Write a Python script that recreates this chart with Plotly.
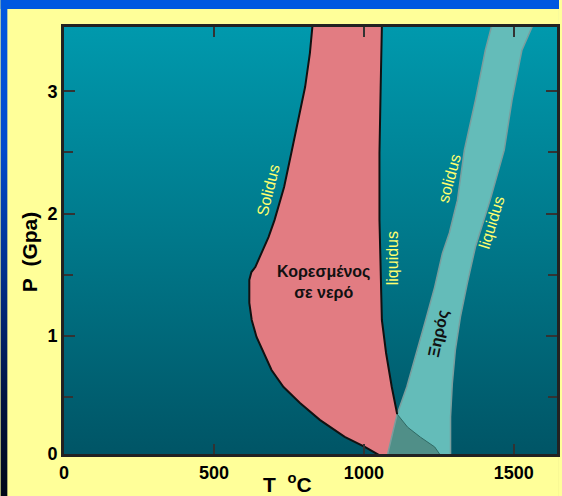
import base64
import plotly.graph_objects as go

# ---------------- data (T in °C, P in GPa) ----------------
WET_SOLIDUS_T = [831, 828, 820, 804, 782, 758, 734, 702, 682, 659, 638, 625, 618, 618,
                 626, 642, 666, 692, 732, 787, 853, 936, 1003, 1069]
WET_SOLIDUS_P = [3.60, 3.526, 3.313, 3.035, 2.765, 2.495, 2.217, 1.947, 1.808, 1.677, 1.563,
                 1.522, 1.457, 1.269, 1.130, 0.991, 0.860, 0.721, 0.582, 0.452, 0.313,
                 0.174, 0.092, 0.0]

WET_LIQUIDUS_T = [1062, 1060, 1056, 1052, 1052, 1056, 1060, 1074, 1093, 1111]
WET_LIQUIDUS_P = [3.60, 3.526, 3.035, 2.495, 1.947, 1.399, 1.130, 0.860, 0.582, 0.36]

WET_LIQUIDUS_EXT_T = [1111, 1146, 1189, 1236, 1262]
WET_LIQUIDUS_EXT_P = [0.36, 0.253, 0.171, 0.092, 0.0]

DRY_SOLIDUS_T = [1433, 1425, 1405, 1372, 1335, 1312, 1285, 1262, 1236, 1206, 1176, 1143, 1111, 1076]
DRY_SOLIDUS_P = [3.60, 3.526, 3.337, 2.928, 2.519, 2.110, 1.841, 1.677, 1.399, 1.130, 0.860,
                 0.582, 0.36, 0.0]

DRY_LIQUIDUS_T = [1574, 1560, 1527, 1494, 1468, 1421, 1372, 1345, 1322, 1305, 1295, 1289, 1289]
DRY_LIQUIDUS_P = [3.60, 3.526, 3.337, 2.928, 2.519, 2.110, 1.727, 1.432, 1.155, 0.884, 0.614,
                  0.336, 0.0]

X_TICKS = [0, 500, 1000, 1500]
X_TICK_LABELS = ["0", "500", "1000", "1500"]
Y_TICKS = [0, 1, 2, 3]
Y_TICK_LABELS = ["0", "1", "2", "3"]
Y_MINOR_TICKS = [0.5, 1.5, 2.5]

X_RANGE = [0, 1644]
Y_RANGE = [0.034, 3.526]

# ---------------- styles ----------------
RED = "#E27C82"
DRY = "#64BCB9"
OVERLAP = "#508F88"
YELLOW_TXT = "#FFFF6E"
FONT = "Liberation Sans, Arial, sans-serif"

W, H = 562, 496
ML, MR, MT, MB = 64, 2, 27, 42
PW, PH = W - ML - MR, H - MT - MB

svg = f"""<svg xmlns='http://www.w3.org/2000/svg' width='{W}' height='{H}' viewBox='0 0 {W} {H}' preserveAspectRatio='none'>
<defs>
<linearGradient id='b' x1='0' y1='0' x2='0' y2='1'>
<stop offset='0' stop-color='#0058E0'/><stop offset='0.3' stop-color='#004BCC'/>
<stop offset='0.55' stop-color='#00308C'/><stop offset='0.8' stop-color='#001342'/>
<stop offset='1' stop-color='#000818'/></linearGradient>
<linearGradient id='t' x1='0' y1='0' x2='0' y2='1'>
<stop offset='0' stop-color='#0099AD'/><stop offset='0.5' stop-color='#00788A'/>
<stop offset='1' stop-color='#005566'/></linearGradient>
</defs>
<rect width='{W}' height='{H}' fill='url(#b)'/>
<rect x='0' y='0' width='{W}' height='9' fill='#0058E0'/>
<rect x='7' y='9' width='{W-7}' height='{H-9}' fill='#FFFF99'/>
<rect x='{ML}' y='{MT}' width='{PW}' height='{PH}' fill='url(#t)'/>
</svg>"""
bg_uri = "data:image/svg+xml;base64," + base64.b64encode(svg.encode()).decode()

fig = go.Figure()

# wet (water-saturated) melting region
red_T = WET_SOLIDUS_T + WET_LIQUIDUS_EXT_T[::-1] + WET_LIQUIDUS_T[::-1]
red_P = WET_SOLIDUS_P + WET_LIQUIDUS_EXT_P[::-1] + WET_LIQUIDUS_P[::-1]
fig.add_trace(go.Scatter(x=red_T, y=red_P, fill="toself", fillcolor=RED, mode="none",
                         hoverinfo="skip", showlegend=False))

# dry melting band
dry_T = DRY_SOLIDUS_T + DRY_LIQUIDUS_T[::-1]
dry_P = DRY_SOLIDUS_P + DRY_LIQUIDUS_P[::-1]
fig.add_trace(go.Scatter(x=dry_T, y=dry_P, fill="toself", fillcolor=DRY, mode="none",
                         hoverinfo="skip", showlegend=False))

# overlap of the two
k = DRY_SOLIDUS_P.index(WET_LIQUIDUS_EXT_P[0])
ov_T = DRY_SOLIDUS_T[k:] + WET_LIQUIDUS_EXT_T[::-1]
ov_P = DRY_SOLIDUS_P[k:] + WET_LIQUIDUS_EXT_P[::-1]
fig.add_trace(go.Scatter(x=ov_T, y=ov_P, fill="toself", fillcolor=OVERLAP, mode="none",
                         hoverinfo="skip", showlegend=False))

# boundary lines
for xs, ys, col, w in [
    (DRY_SOLIDUS_T, DRY_SOLIDUS_P, "#7A9E9E", 1.5),
    (DRY_LIQUIDUS_T, DRY_LIQUIDUS_P, "#7A9E9E", 1.5),
    (WET_LIQUIDUS_EXT_T, WET_LIQUIDUS_EXT_P, "#2F6A64", 1),
    (WET_SOLIDUS_T, WET_SOLIDUS_P, "#111111", 2),
    (WET_LIQUIDUS_T, WET_LIQUIDUS_P, "#111111", 2),
]:
    fig.add_trace(go.Scatter(x=xs, y=ys, mode="lines", line=dict(color=col, width=w),
                             hoverinfo="skip", showlegend=False))


def lab(text, x, y, ang, color, size):
    fig.add_annotation(x=x, y=y, text=text, textangle=ang, showarrow=False,
                       xanchor="center", yanchor="middle",
                       font=dict(family=FONT, size=size, color=color))


lab("Solidus", 682, 2.185, -76, YELLOW_TXT, 16)
lab("liquidus", 1098, 1.637, -90, YELLOW_TXT, 16)
lab("solidus", 1284, 2.29, -75, YELLOW_TXT, 16)
lab("liquidus", 1425, 1.93, -73, YELLOW_TXT, 16)
lab("<b>Κορεσμένος</b><br><b>σε νερό</b>", 864, 1.44, 0, "#111111", 16)
lab("<b>Ξηρός</b>", 1249, 1.015, -78, "#111111", 16)

# axis titles
fig.add_annotation(xref="paper", yref="paper", x=-0.0706, y=0.473,
                   xanchor="center", yanchor="middle",
                   text="<b>P\u00a0\u00a0(Gpa)</b>", textangle=-90, showarrow=False,
                   font=dict(family=FONT, size=21, color="#000"))
fig.add_annotation(xref="paper", yref="paper", x=0.4526, y=-0.068,
                   xanchor="center", yanchor="middle",
                   text="<b>T\u00a0\u00a0<sup>o</sup>C</b>", showarrow=False,
                   font=dict(family=FONT, size=21, color="#000"))

tickfont = dict(family=FONT, size=18, color="#000", weight="bold")
fig.update_xaxes(range=X_RANGE, tickvals=X_TICKS, ticktext=X_TICK_LABELS,
                 ticks="inside", ticklen=10, tickwidth=1.5, tickcolor="#333",
                 showline=True, linewidth=3, linecolor="#222", mirror="ticks",
                 showgrid=False, zeroline=False, tickfont=tickfont)
fig.update_yaxes(range=Y_RANGE,
                 tickvals=[max(v, Y_RANGE[0]) for v in Y_TICKS], ticktext=Y_TICK_LABELS,
                 ticks="inside", ticklen=11, tickwidth=1.5, tickcolor="#333",
                 minor=dict(tickvals=Y_MINOR_TICKS, ticks="inside", ticklen=9,
                            tickwidth=1.5, tickcolor="#333"),
                 showline=True, linewidth=3, linecolor="#222", mirror="ticks",
                 showgrid=False, zeroline=False, tickfont=tickfont)

fig.update_layout(
    width=W, height=H, autosize=False,
    margin=dict(l=ML, r=MR, t=MT, b=MB, pad=0),
    paper_bgcolor="#FFFF99", plot_bgcolor="rgba(0,0,0,0)",
    images=[dict(source=bg_uri, xref="paper", yref="paper",
                 x=-ML / PW, y=1 + MT / PH, sizex=W / PW, sizey=H / PH,
                 xanchor="left", yanchor="top", sizing="stretch", layer="below")],
)

fig.write_html("out.html", config={"displayModeBar": False})
